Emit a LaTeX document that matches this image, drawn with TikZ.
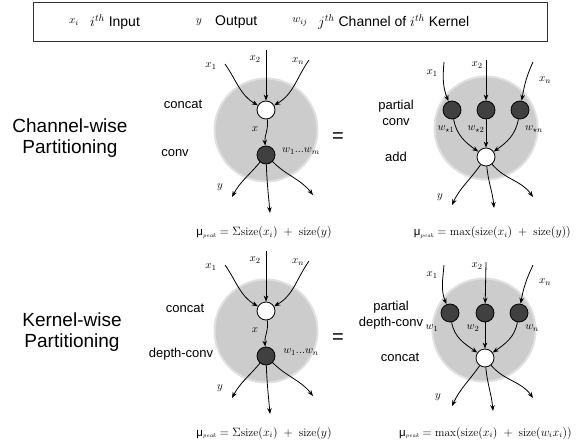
\documentclass[tikz,border=0pt]{standalone}
\usepackage{fontspec}
\newfontfamily\lsans{Liberation Sans}
\usetikzlibrary{arrows.meta}
\begin{document}
\begin{tikzpicture}[x=1pt,y=1pt,
  bg/.style={circle,fill=black!20,draw=black!12,line width=2pt,minimum size=103pt,inner sep=0pt},
  wn/.style={circle,draw=black,line width=0.8pt,fill=white,minimum size=18pt,inner sep=0pt},
  bn/.style={circle,draw=black,line width=0.8pt,fill=black!75,minimum size=18pt,inner sep=0pt},
  arr/.style={-{Stealth[length=6pt,width=4.5pt]},line width=0.8pt},
  ml/.style={inner sep=0pt,font=\fontsize{11}{13}\selectfont},
  tl/.style={font=\lsans\fontsize{13}{15.5}\selectfont,inner sep=0pt,align=center},
  lg/.style={font=\lsans\fontsize{14}{16}\selectfont,inner sep=0pt,anchor=west},
  big/.style={font=\lsans\fontsize{19}{21.5}\selectfont,inner sep=0pt,align=center},
  eq/.style={font=\lsans\fontsize{20}{22}\selectfont,inner sep=0pt},
  fm/.style={font=\fontsize{11.5}{13}\selectfont,inner sep=0pt},
  legbox/.style={draw=black!80,line width=0.9pt,fill=white}
  ]
\useasboundingbox (0,0) rectangle (580,-446);

% ---------- legend ----------
\node[legbox,minimum width=514pt,minimum height=39pt,inner sep=0pt] (legend) at (290,-21.5) {};
\node[ml] (lxi) at (74,-22) {$x_i$};
\node[lg] (lxit) at (90,-22) {$i^{th}$ Input};
\node[ml] (ly) at (199,-22) {$y$};
\node[lg] (lyt) at (215,-22) {Output};
\node[ml] (lw) at (300,-22) {$w_{ij}$};
\node[lg] (lwt) at (318,-22) {$j^{th}$ Channel of $i^{th}$ Kernel};

% ---------- row titles ----------
\node[big] (t1) at (70,-138) {Channel-wise\\Partitioning};
\node[big] (t2) at (72,-332) {Kernel-wise\\Partitioning};

% ================= top-left =================
\node[bg] (tlbg) at (266,-130) {};
\node[wn] (tlw) at (266,-110) {};
\node[bn] (tlb) at (266,-155) {};
\coordinate (tli1) at (225,-64);
\coordinate (tli2) at (266,-50);
\coordinate (tlin) at (309,-60);
\coordinate (tlo1) at (232,-197);
\coordinate (tlo2) at (270,-213);
\coordinate (tlo3) at (313,-195);
\draw[arr] (tli1) to[out=-55,in=150] (tlw);
\draw[arr] (tli2) -- (tlw);
\draw[arr] (tlin) to[out=-125,in=30] (tlw);
\draw[arr] (tlw) to[out=-82,in=95] (tlb);
\draw[arr] (tlb) to[out=-130,in=62] (tlo1);
\draw[arr] (tlb) to[out=-88,in=95] (tlo2);
\draw[arr] (tlb) to[out=-45,in=128] (tlo3);
\node[ml] (tllx1) at (211,-66) {$x_1$};
\node[ml] (tllx2) at (255,-59) {$x_2$};
\node[ml] (tllxn) at (298,-61) {$x_n$};
\node[ml] (tllx) at (255,-129) {$x$};
\node[ml] (tllw) at (301,-151) {$w_1 ... w_m$};
\node[ml] (tlly) at (220,-187) {$y$};
\node[tl] (tlc1) at (183,-104) {concat};
\node[tl] (tlc2) at (175,-153) {conv};
\node[eq] (eq1) at (338,-138) {=};
\node[fm] (tlf) at (264,-233) {{\lsans μ}$_{\scriptscriptstyle\mathit{peak}} = \Sigma\mathrm{size}(x_{i}) \;+\; \mathrm{size}(y)$};

% ================= top-right =================
\node[bg] (trbg) at (486,-128) {};
\node[bn] (trb1) at (452,-110) {};
\node[bn] (trb2) at (486,-110) {};
\node[bn] (trb3) at (520,-110) {};
\node[wn] (trw) at (486,-157) {};
\coordinate (tri1) at (444,-62);
\coordinate (tri2) at (486,-60);
\coordinate (trin) at (533,-62);
\coordinate (tro1) at (452,-205);
\coordinate (tro2) at (494,-208);
\coordinate (tro3) at (533,-197);
\draw[arr] (tri1) to[out=-95,in=112] (trb1);
\draw[arr] (tri2) -- (trb2);
\draw[arr] (trin) to[out=-115,in=80] (trb3);
\draw[arr] (trb1) to[out=-80,in=145] (trw);
\draw[arr] (trb2) -- (trw);
\draw[arr] (trb3) to[out=-100,in=35] (trw);
\draw[arr] (trw) to[out=-125,in=65] (tro1);
\draw[arr] (trw) to[out=-85,in=95] (tro2);
\draw[arr] (trw) to[out=-50,in=125] (tro3);
\node[ml] (trlx1) at (432,-73) {$x_1$};
\node[ml] (trlx2) at (477,-65) {$x_2$};
\node[ml] (trlxn) at (545,-80) {$x_n$};
\node[ml] (trlw1) at (446,-129) {$w_{\star 1}$};
\node[ml] (trlw2) at (476,-129) {$w_{\star 2}$};
\node[ml] (trlwn) at (534,-129) {$w_{\star n}$};
\node[ml] (trly) at (440,-197) {$y$};
\node[tl] (trc1) at (396,-113) {partial\\conv};
\node[tl] (trc2) at (396,-157) {add};
\node[fm,anchor=east] (trf) at (571,-233) {{\lsans μ}$_{\scriptscriptstyle\mathit{peak}} = \max(\mathrm{size}(x_{i}) \;+\; \mathrm{size}(y))$};

% ================= bottom-left =================
\node[bg] (blbg) at (266,-331) {};
\node[wn] (blw) at (266,-311) {};
\node[bn] (blb) at (266,-356) {};
\coordinate (bli1) at (225,-265);
\coordinate (bli2) at (266,-251);
\coordinate (blin) at (309,-261);
\coordinate (blo1) at (232,-398);
\coordinate (blo2) at (270,-414);
\coordinate (blo3) at (313,-396);
\draw[arr] (bli1) to[out=-55,in=150] (blw);
\draw[arr] (bli2) -- (blw);
\draw[arr] (blin) to[out=-125,in=30] (blw);
\draw[arr] (blw) to[out=-82,in=95] (blb);
\draw[arr] (blb) to[out=-130,in=62] (blo1);
\draw[arr] (blb) to[out=-88,in=95] (blo2);
\draw[arr] (blb) to[out=-45,in=128] (blo3);
\node[ml] (bllx1) at (211,-267) {$x_1$};
\node[ml] (bllx2) at (255,-260) {$x_2$};
\node[ml] (bllxn) at (298,-262) {$x_n$};
\node[ml] (bllx) at (255,-330) {$x$};
\node[ml] (bllw) at (301,-352) {$w_1 ... w_n$};
\node[ml] (blly) at (220,-388) {$y$};
\node[tl] (blc1) at (185,-308) {concat};
\node[tl] (blc2) at (181,-354) {depth-conv};
\node[eq] (eq2) at (338,-339) {=};
\node[fm] (blf) at (264,-433) {{\lsans μ}$_{\scriptscriptstyle\mathit{peak}} = \Sigma\mathrm{size}(x_{i}) \;+\; \mathrm{size}(y)$};

% ================= bottom-right =================
\node[bg] (brbg) at (484,-330) {};
\node[bn] (brb1) at (450,-313) {};
\node[bn] (brb2) at (485,-313) {};
\node[bn] (brb3) at (519,-313) {};
\node[wn] (brw) at (485,-358) {};
\coordinate (bri1) at (444,-265);
\coordinate (bri2) at (486,-262);
\coordinate (brin) at (533,-265);
\coordinate (bro1) at (452,-406);
\coordinate (bro2) at (493,-411);
\coordinate (bro3) at (533,-398);
\draw[arr] (bri1) to[out=-95,in=112] (brb1);
\draw[arr] (bri2) -- (brb2);
\draw[arr] (brin) to[out=-115,in=80] (brb3);
\draw[arr] (brb1) to[out=-80,in=145] (brw);
\draw[arr] (brb2) -- (brw);
\draw[arr] (brb3) to[out=-100,in=35] (brw);
\draw[arr] (brw) to[out=-125,in=65] (bro1);
\draw[arr] (brw) to[out=-85,in=95] (bro2);
\draw[arr] (brw) to[out=-50,in=125] (bro3);
\node[ml] (brlx1) at (432,-275) {$x_1$};
\node[ml] (brlx2) at (477,-266) {$x_2$};
\node[ml] (brlxn) at (545,-282) {$x_n$};
\node[ml] (brlw1) at (432,-328) {$w_1$};
\node[ml] (brlw2) at (473,-328) {$w_2$};
\node[ml] (brlwn) at (532,-328) {$w_n$};
\node[ml] (brly) at (438,-397) {$y$};
\node[tl] (brc1) at (391,-315) {partial\\depth-conv};
\node[tl] (brc2) at (400,-357) {concat};
\node[fm,anchor=east] (brf) at (572,-433) {{\lsans μ}$_{\scriptscriptstyle\mathit{peak}} = \max(\mathrm{size}(x_{i}) \;+\; \mathrm{size}(w_{i}x_{i}))$};
\end{tikzpicture}
\end{document}
